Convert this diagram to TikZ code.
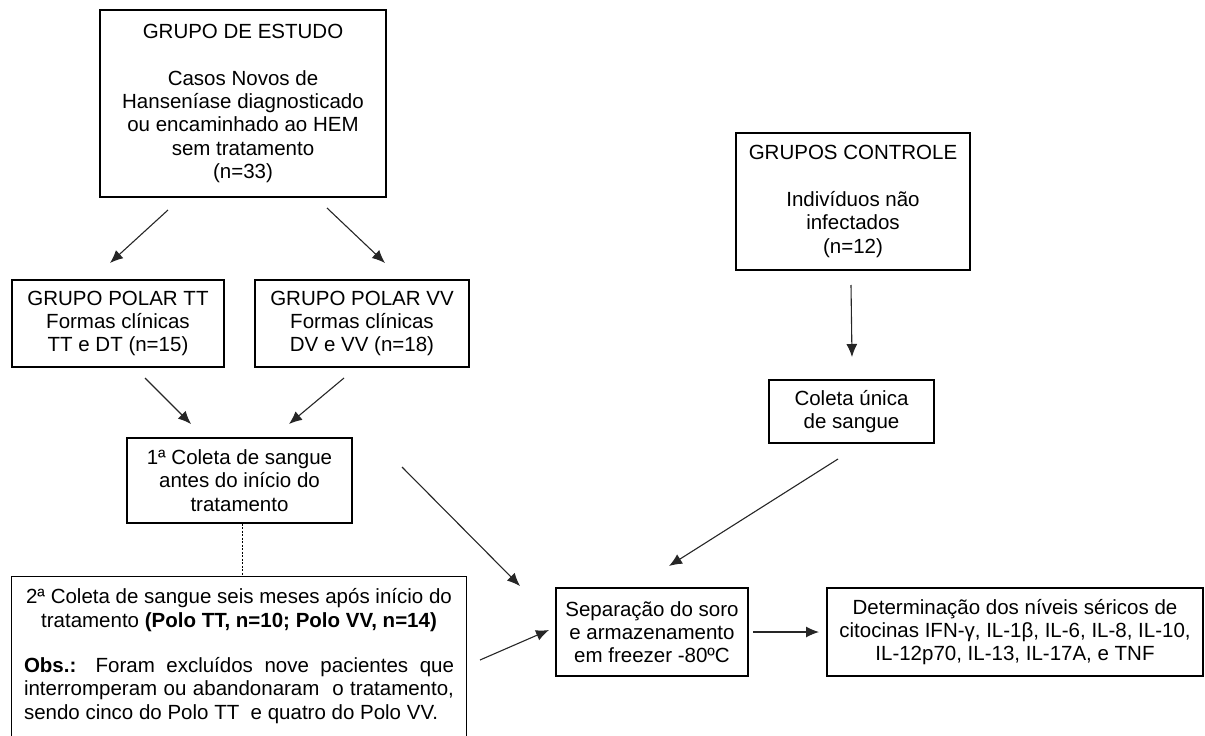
\documentclass[tikz,border=0pt]{standalone}
\usepackage{fontspec}
\setmainfont{Liberation Sans}
\usetikzlibrary{arrows.meta}
\tikzset{
  boxline/.style={draw=black, line width=1.1pt},
  box/.style={boxline, align=center, inner sep=0pt,
    font=\fontsize{20.5}{23.3}\selectfont},
  arr/.style={line width=1.1pt, draw=black!85, -{Latex[length=13pt,width=11pt]}},
}
\begin{document}
\begin{tikzpicture}[x=1pt,y=-1pt]
\useasboundingbox (0,0) rectangle (1205,736);
\clip (0,0) rectangle (1205,736);
\node[box, minimum width=286pt, minimum height=187pt] (est) at (243,103.5)
  {GRUPO DE ESTUDO\\[23.3pt]Casos Novos de\\Hanseníase diagnosticado\\ou encaminhado ao HEM\\sem tratamento\\(n=33)};
\node[box, minimum width=234pt, minimum height=137pt] (ctrl) at (853,201.5)
  {GRUPOS CONTROLE\\[23.3pt]Indivíduos não\\infectados\\(n=12)};
\node[box, minimum width=212pt, minimum height=87pt] (tt) at (118,323.5)
  {GRUPO POLAR TT\\Formas clínicas\\TT e DT (n=15)};
\node[box, minimum width=214pt, minimum height=87pt] (vv) at (362,323.5)
  {GRUPO POLAR VV\\Formas clínicas\\DV e VV (n=18)};
\node[box, minimum width=225pt, minimum height=85pt] (c1) at (239.5,480.5)
  {1ª Coleta de sangue\\antes do início do\\tratamento};
\node[box, minimum width=165pt, minimum height=63pt] (cu) at (851.5,411.5)
  {Coleta única\\de sangue};
\node[box, draw=none, align=none, text width=430pt, inner xsep=12pt, minimum height=158pt] (c2) at (239,656)
  {{\centering 2ª Coleta de sangue seis meses após início do\\ tratamento \textbf{(Polo TT, n=10; Polo VV, n=14)}\par}
   \vspace{22pt}\noindent\textbf{Obs.:} Foram excluídos nove pacientes que\linebreak interromperam ou abandonaram\ \ o tratamento,\linebreak sendo cinco do Polo TT\ \ e quatro do Polo VV.};
\draw[boxline] ([yshift=-12pt]c2.south west) -- (c2.north west) -- (c2.north east) -- ([yshift=-12pt]c2.south east);
\node[box, minimum width=192pt, minimum height=88pt] (sep) at (652,632)
  {Separação do soro\\e armazenamento\\em freezer -80ºC};
\node[box, minimum width=376pt, minimum height=88pt] (det) at (1015,632)
  {Determinação dos níveis séricos de\\citocinas IFN-γ, IL-1β, IL-6, IL-8, IL-10,\\IL-12p70, IL-13, IL-17A, e TNF};
% arrow end points
\coordinate (a1s) at (168,210); \coordinate (a1e) at (110,263);
\coordinate (a2s) at (327,208); \coordinate (a2e) at (385,263);
\coordinate (a3s) at (145,378); \coordinate (a3e) at (191,424);
\coordinate (a4s) at (344,378); \coordinate (a4e) at (289,424);
\coordinate (a5s) at (851,285); \coordinate (a5e) at (852,357);
\coordinate (a6s) at (402,467); \coordinate (a6e) at (520,586);
\coordinate (a7s) at (838,459); \coordinate (a7e) at (669,566);
\coordinate (a8s) at (480,660); \coordinate (a8e) at (549,630);
\coordinate (a9s) at (753,632); \coordinate (a9e) at (819,632);
\draw[arr] (a1s) -- (a1e);
\draw[arr] (a2s) -- (a2e);
\draw[arr] (a3s) -- (a3e);
\draw[arr] (a4s) -- (a4e);
\draw[arr] (a5s) -- (a5e);
\draw[arr] (a6s) -- (a6e);
\draw[arr] (a7s) -- (a7e);
\draw[arr] (a8s) -- (a8e);
\draw[arr] (a9s) -- (a9e);
\draw[line width=0.8pt, dash pattern=on 2pt off 1.5pt] (c1.south -| 242,0) -- (c2.north -| 242,0);
\end{tikzpicture}
\end{document}
